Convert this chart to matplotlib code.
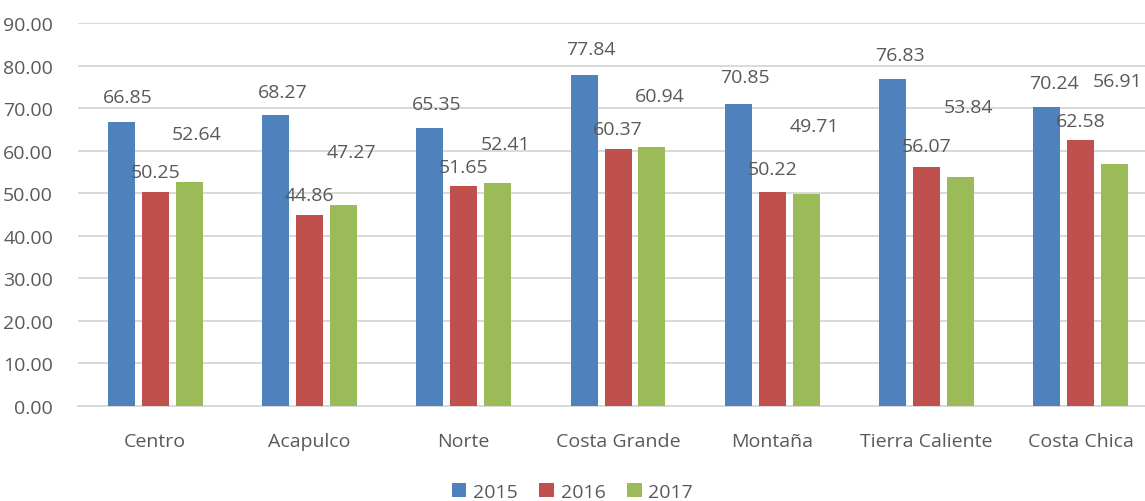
import numpy as np
import matplotlib.pyplot as plt

regiones = ["Centro", "Acapulco", "Norte", "Costa Grande", "Montaña", "Tierra Caliente", "Costa Chica"]
anios = ["2015", "2016", "2017"]
v2015 = [66.85, 68.27, 65.35, 77.84, 70.85, 76.83, 70.24]
v2016 = [50.25, 44.86, 51.65, 60.37, 50.22, 56.07, 62.58]
v2017 = [52.64, 47.27, 52.41, 60.94, 49.71, 53.84, 56.91]

colores = ["#4f81bd", "#c0504d", "#9bbb59"]
# how far above / beside the bar each label sits (labels were moved by hand in the original)
lab_up = [[5.8, 5.5, 5.6, 6.0, 6.4, 5.7, 5.7],
          [4.8, 4.8, 4.6, 4.8, 5.5, 5.0, 4.4],
          [11.3, 12.4, 9.2, 11.9, 16.0, 16.5, 19.5]]
lab_dx = [[0.045] * 7,
          [0.0] * 7,
          [0.05, 0.05, 0.05, 0.05, 0.05, 0.05, 0.02]]

plt.rcParams['font.family'] = ['Open Sans', 'DejaVu Sans']
gris = "#595959"
fs = 14

fig = plt.figure(figsize=(11.45, 5.02), dpi=100)
ax = fig.add_axes([78/1145, 95/502, 1080/1145, 383/502])

x = np.arange(len(regiones))
w = 0.175
offs = [-0.22, 0.0, 0.22]
series = [v2015, v2016, v2017]
for k, vals in enumerate(series):
    ax.bar(x + offs[k], vals, w, color=colores[k], label=anios[k], zorder=3)
    for i, v in enumerate(vals):
        ax.text(x[i] + offs[k] + lab_dx[k][i], v + lab_up[k][i], f"{v:.2f}",
                ha="center", va="center", fontsize=fs, color=gris, zorder=4)

ax.set_xlim(-0.5, 6.5)
ax.set_ylim(0, 90)
ax.set_yticks(np.arange(0, 91, 10))
ax.set_yticklabels([f"{t:.2f}" for t in np.arange(0, 91, 10)])
ax.set_xticks(x)
ax.set_xticklabels(regiones)
ax.tick_params(axis="both", length=0, labelsize=fs, colors=gris)
ax.tick_params(axis="x", pad=19)
ax.tick_params(axis="y", pad=18)
ax.grid(axis="y", color="#d9d9d9", linewidth=1.4, zorder=0)
for s in ["left", "right", "top"]:
    ax.spines[s].set_visible(False)
ax.spines["bottom"].set_color("#d9d9d9")
ax.spines["bottom"].set_linewidth(1.4)

fig.legend(loc="lower center", ncol=3, frameon=False, fontsize=fs,
           handlelength=0.75, handleheight=0.75, handletextpad=0.35, columnspacing=1.1,
           bbox_to_anchor=(0.5, -0.035), labelcolor=gris)

fig.savefig("out.png", dpi=100)
